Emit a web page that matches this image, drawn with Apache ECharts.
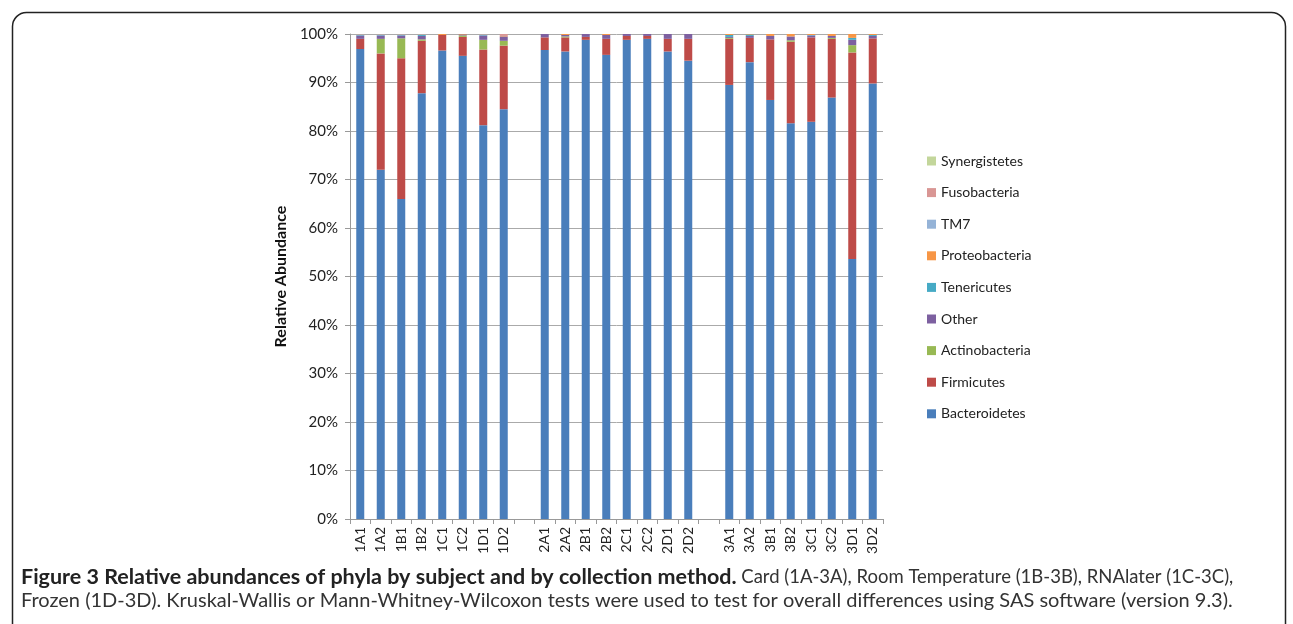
<!DOCTYPE html>
<html><head><meta charset="utf-8">
<script src="https://cdn.jsdelivr.net/npm/echarts@6/dist/echarts.min.js"></script>
<style>html,body{margin:0;padding:0;background:#fff}#c{width:1293px;height:624px}</style>
</head><body><div id="c"></div>
<script>
const categories = ['1A1','1A2','1B1','1B2','1C1','1C2','1D1','1D2','',
  '2A1','2A2','2B1','2B2','2C1','2C2','2D1','2D2','',
  '3A1','3A2','3B1','3B2','3C1','3C2','3D1','3D2'];
const bacteroidetes = [96.9,72,66,87.8,96.6,95.5,81.2,84.5,null, 96.7,96.4,98.8,95.7,98.8,99,96.4,94.5,null, 89.5,94.2,86.4,81.6,81.9,86.9,53.6,89.8];
const firmicutes    = [2.1,24,29,10.8,3.2,3.9,15.6,13.1,null, 2.6,2.9,0.6,3.3,0.8,0.6,2.6,4.5,null, 9.5,5,12.5,16.8,17.4,12.1,42.6,9.3];
const actinobacteria= [0,3,4.1,0.3,0,0.3,2,1,null, 0,0.2,0,0,0,0,0,0,null, 0.2,0,0,0.3,0,0.2,1.5,0];
const other         = [0.7,0.7,0.6,0.7,0,0.2,0.9,0.9,null, 0.7,0.3,0.6,0.8,0.4,0.4,1,1,null, 0.2,0.4,0.7,0.8,0.4,0.4,1.1,0.5];
const tenericutes   = [0.1,0.1,0.1,0.2,0,0,0.1,0,null, 0,0,0,0,0,0,0,0,null, 0.4,0.3,0,0,0.1,0,0.4,0.2];
const proteobacteria= [0.1,0.1,0.1,0.1,0.2,0.1,0.1,0.1,null, 0,0.2,0,0.2,0,0,0,0,null, 0.2,0.1,0.4,0.5,0.2,0.4,0.8,0.2];
const tm7           = [0.1,0.1,0.1,0.1,0,0,0.1,0,null, 0,0,0,0,0,0,0,0,null, 0,0,0,0,0,0,0,0];
const fusobacteria  = [0,0,0,0,0,0,0,0.4,null, 0,0,0,0,0,0,0,0,null, 0,0,0,0,0,0,0,0];
const synergistetes = [0,0,0,0,0,0,0,0,null, 0,0,0,0,0,0,0,0,null, 0,0,0,0,0,0,0,0];
const yTicks = [0,10,20,30,40,50,60,70,80,90,100];

const seriesDefs = [
  ['Bacteroidetes', bacteroidetes, '#4A7EBB'],
  ['Firmicutes', firmicutes, '#BE4B48'],
  ['Actinobacteria', actinobacteria, '#98B954'],
  ['Other', other, '#7D60A0'],
  ['Tenericutes', tenericutes, '#46AAC5'],
  ['Proteobacteria', proteobacteria, '#F79646'],
  ['TM7', tm7, '#95B3D7'],
  ['Fusobacteria', fusobacteria, '#D99694'],
  ['Synergistetes', synergistetes, '#C3D69B']
];
const chart = echarts.init(document.getElementById('c'));
const chartFont = 'Lato';
chart.setOption({
  animation: false,
  backgroundColor: '#fff',
  textStyle: {fontFamily: chartFont},
  title: {
    left: 16, top: 561,
    text: '{b|Figure 3 Relative abundances of phyla by subject and by collection method.} {n1|Card (1A-3A), Room Temperature (1B-3B), RNAlater (1C-3C),}\n{n|Frozen (1D-3D). Kruskal-Wallis or Mann-Whitney-Wilcoxon tests were used to test for overall differences using SAS software (version 9.3).}',
    textStyle: {
      fontWeight: 'normal',
      rich: {
        b: {fontFamily: 'Lato', fontWeight: 'bold', fontSize: 21.5, color: '#222', lineHeight: 23},
        n1: {fontFamily: 'Lato', fontWeight: 'normal', fontSize: 18.5, color: '#333', lineHeight: 23},
        n: {fontFamily: 'Lato', fontWeight: 'normal', fontSize: 20, color: '#333', lineHeight: 23}
      }
    }
  },
  graphic: [{
    type: 'rect', left: 10, top: 10, silent: true,
    shape: {width: 1273, height: 700, r: 14},
    style: {fill: 'none', stroke: '#222', lineWidth: 1.5}
  }],
  legend: {
    orient: 'vertical', left: 922, top: 149, itemGap: 17.6,
    itemWidth: 9, itemHeight: 9, icon: 'rect',
    data: seriesDefs.map(s => s[0]).reverse(),
    textStyle: {fontSize: 14, color: '#222', fontFamily: chartFont}
  },
  grid: {left: 350, right: 410, top: 34, bottom: 105},
  xAxis: {
    type: 'category', data: categories,
    axisLine: {lineStyle: {color: '#999'}},
    axisTick: {show: true, length: 5, lineStyle: {color: '#999'}},
    axisLabel: {rotate: 90, fontSize: 14, color: '#222', margin: 8, interval: 0}
  },
  yAxis: {
    type: 'value', min: 0, max: 100, interval: 10,
    name: 'Relative Abundance', nameLocation: 'middle', nameGap: 61, nameRotate: 90,
    nameTextStyle: {fontSize: 16, fontWeight: 'bold', color: '#111'},
    axisLine: {show: true, lineStyle: {color: '#999'}},
    axisTick: {show: true, length: 5, lineStyle: {color: '#999'}},
    splitLine: {lineStyle: {color: '#aaa'}},
    axisLabel: {fontSize: 15, color: '#222', margin: 12,
      formatter: v => yTicks.includes(v) ? v + '%' : ''}
  },
  series: seriesDefs.map(s => ({
    name: s[0], type: 'bar', stack: 'total', data: s[1], barWidth: 8,
    itemStyle: {color: s[2]}
  }))
});
</script></body></html>
